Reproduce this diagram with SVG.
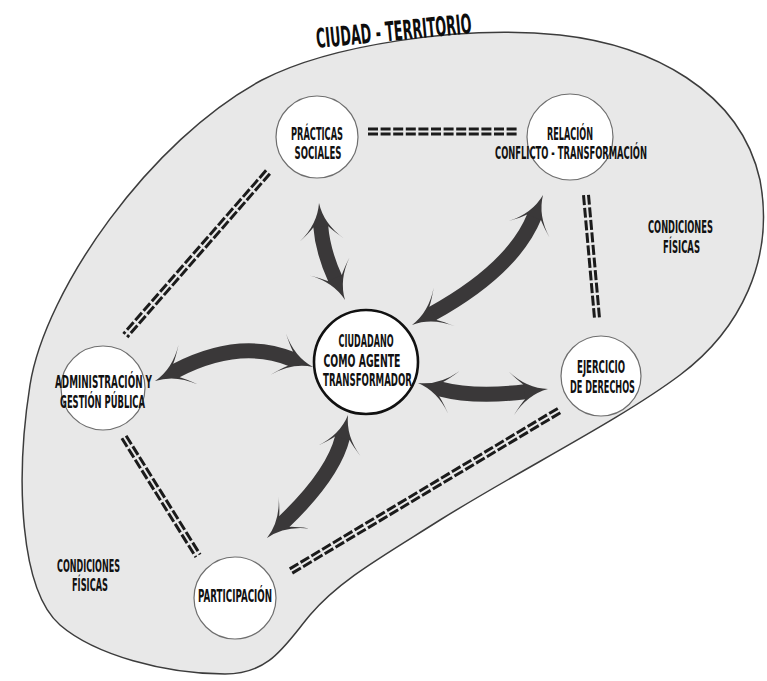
<svg xmlns="http://www.w3.org/2000/svg" xmlns:xlink="http://www.w3.org/1999/xlink" width="767" height="681" viewBox="0 0 767 681">
  <style>
    .lbl { font-family: "DejaVu Sans Condensed", "Liberation Sans", sans-serif; font-weight: bold; font-size: 18.5px; fill: #111; text-anchor: middle; }
    .title { font-family: "DejaVu Sans Condensed", "Liberation Sans", sans-serif; font-weight: bold; font-size: 27px; fill: #0d0d0d; }
    .node { fill: #ffffff; stroke: #6e6e6e; stroke-width: 1.2; }
    .core { fill: #ffffff; stroke: #111; stroke-width: 2.6; }
    .rail line { stroke: #1b1b1b; stroke-width: 3; stroke-dasharray: 10 2.6; }
    .shaft { fill: none; stroke: #3a3839; stroke-width: 15; stroke-linecap: butt; }
    .head { fill: #3a3839; }
  </style>
  <defs>
    <!-- swept arrowhead, tip at origin pointing along +x -->
    <path id="head" class="head" d="M0,0 Q-21,3 -37,22 Q-29,12 -24,7.5 L-24,-7.5 Q-29,-12 -37,-22 Q-21,-3 0,0 Z"/>
  </defs>

  <rect width="767" height="681" fill="#ffffff"/>

  <!-- territory outline -->
  <path id="territorio" d="M262,80 C330,45 460,25 560,35 C650,45 740,90 760,180 C775,260 740,330 680,375 C620,420 520,470 440,520 C380,558 340,580 310,615 C285,645 270,674 225,674 C165,674 95,655 60,625 C20,590 15,480 30,385 C45,290 150,140 262,80 Z" fill="#e8e8e8" stroke="#3c3c3c" stroke-width="1.5"/>

  <text class="title" transform="translate(317,48) rotate(-5.5)" textLength="156" lengthAdjust="spacingAndGlyphs">CIUDAD - TERRITORIO</text>

  <!-- double dashed links between the outer nodes -->
  <g id="connectors">
    <g class="rail" transform="translate(368,131.5) rotate(0)"><line x1="0" y1="-2.5" x2="150" y2="-2.5"/><line x1="0" y1="2.5" x2="150" y2="2.5"/></g>
    <g class="rail" transform="translate(268,172) rotate(131.1)"><line x1="0" y1="-2.5" x2="217" y2="-2.5"/><line x1="0" y1="2.5" x2="217" y2="2.5"/></g>
    <g class="rail" transform="translate(586,195) rotate(84.9)"><line x1="0" y1="-2.5" x2="123" y2="-2.5"/><line x1="0" y1="2.5" x2="123" y2="2.5"/></g>
    <g class="rail" transform="translate(124,437) rotate(58.1)"><line x1="0" y1="-2.5" x2="140" y2="-2.5"/><line x1="0" y1="2.5" x2="140" y2="2.5"/></g>
    <g class="rail" transform="translate(291,571) rotate(-30.9)"><line x1="0" y1="-2.5" x2="313" y2="-2.5"/><line x1="0" y1="2.5" x2="313" y2="2.5"/></g>

    <!-- two-way arrows from the citizen to each node -->
    <path class="shaft" d="M320.7,225.9 Q322.6,251.2 335.4,279.1"/>
    <use xlink:href="#head" transform="translate(319,203) rotate(-94.3)"/>
    <use xlink:href="#head" transform="translate(345,300) rotate(65.4)"/>

    <path class="shaft" d="M534.4,216.3 Q513,269 432.1,313.8"/>
    <use xlink:href="#head" transform="translate(543,195) rotate(-68)"/>
    <use xlink:href="#head" transform="translate(412,325) rotate(151)"/>

    <path class="shaft" d="M175.6,370.9 Q239,338 291.4,359"/>
    <use xlink:href="#head" transform="translate(155,381) rotate(153.8)"/>
    <use xlink:href="#head" transform="translate(313,367) rotate(20.3)"/>

    <path class="shaft" d="M440.2,388.9 Q474,397.8 525.2,391.7"/>
    <use xlink:href="#head" transform="translate(418,383) rotate(-165.2)"/>
    <use xlink:href="#head" transform="translate(548,389) rotate(-6.8)"/>

    <path class="shaft" d="M342.5,437.3 Q333.3,474.7 283.7,522.1"/>
    <use xlink:href="#head" transform="translate(348,415) rotate(-76.2)"/>
    <use xlink:href="#head" transform="translate(267,538) rotate(136.4)"/>
  </g>

  <g id="practicas">
    <circle class="node" cx="317" cy="137" r="41"/>
    <text class="lbl" x="317" y="140" textLength="52" lengthAdjust="spacingAndGlyphs">PRÁCTICAS</text>
    <text class="lbl" x="318" y="158.5" textLength="47" lengthAdjust="spacingAndGlyphs">SOCIALES</text>
  </g>

  <g id="relacion">
    <circle class="node" cx="570" cy="137" r="43"/>
    <text class="lbl" x="570" y="140" textLength="46" lengthAdjust="spacingAndGlyphs">RELACIÓN</text>
    <text class="lbl" x="571" y="158.5" textLength="152" lengthAdjust="spacingAndGlyphs">CONFLICTO - TRANSFORMACIÓN</text>
  </g>

  <g id="administracion">
    <circle class="node" cx="103" cy="388" r="42"/>
    <text class="lbl" x="103.5" y="388" textLength="97" lengthAdjust="spacingAndGlyphs">ADMINISTRACIÓN Y</text>
    <text class="lbl" x="102.5" y="407.5" textLength="85" lengthAdjust="spacingAndGlyphs">GESTIÓN PÚBLICA</text>
  </g>

  <g id="ciudadano">
    <circle class="core" cx="366" cy="362" r="52"/>
    <text class="lbl" x="366" y="347" textLength="55" lengthAdjust="spacingAndGlyphs">CIUDADANO</text>
    <text class="lbl" x="362" y="366.5" textLength="77" lengthAdjust="spacingAndGlyphs">COMO AGENTE</text>
    <text class="lbl" x="367.5" y="385.5" textLength="89" lengthAdjust="spacingAndGlyphs">TRANSFORMADOR</text>
  </g>

  <g id="ejercicio">
    <circle class="node" cx="601" cy="376" r="40"/>
    <text class="lbl" x="601" y="373" textLength="48" lengthAdjust="spacingAndGlyphs">EJERCICIO</text>
    <text class="lbl" x="602.5" y="392.5" textLength="65" lengthAdjust="spacingAndGlyphs">DE DERECHOS</text>
  </g>

  <g id="participacion">
    <circle class="node" cx="235" cy="598" r="41"/>
    <text class="lbl" x="235" y="602" textLength="74" lengthAdjust="spacingAndGlyphs">PARTICIPACIÓN</text>
  </g>

  <g id="condiciones-der">
    <text class="lbl" x="680.5" y="233" textLength="65" lengthAdjust="spacingAndGlyphs">CONDICIONES</text>
    <text class="lbl" x="681.5" y="252.5" textLength="37" lengthAdjust="spacingAndGlyphs">FÍSICAS</text>
  </g>

  <g id="condiciones-izq">
    <text class="lbl" x="88.5" y="572" textLength="63" lengthAdjust="spacingAndGlyphs">CONDICIONES</text>
    <text class="lbl" x="90" y="590.5" textLength="36" lengthAdjust="spacingAndGlyphs">FÍSICAS</text>
  </g>
</svg>
